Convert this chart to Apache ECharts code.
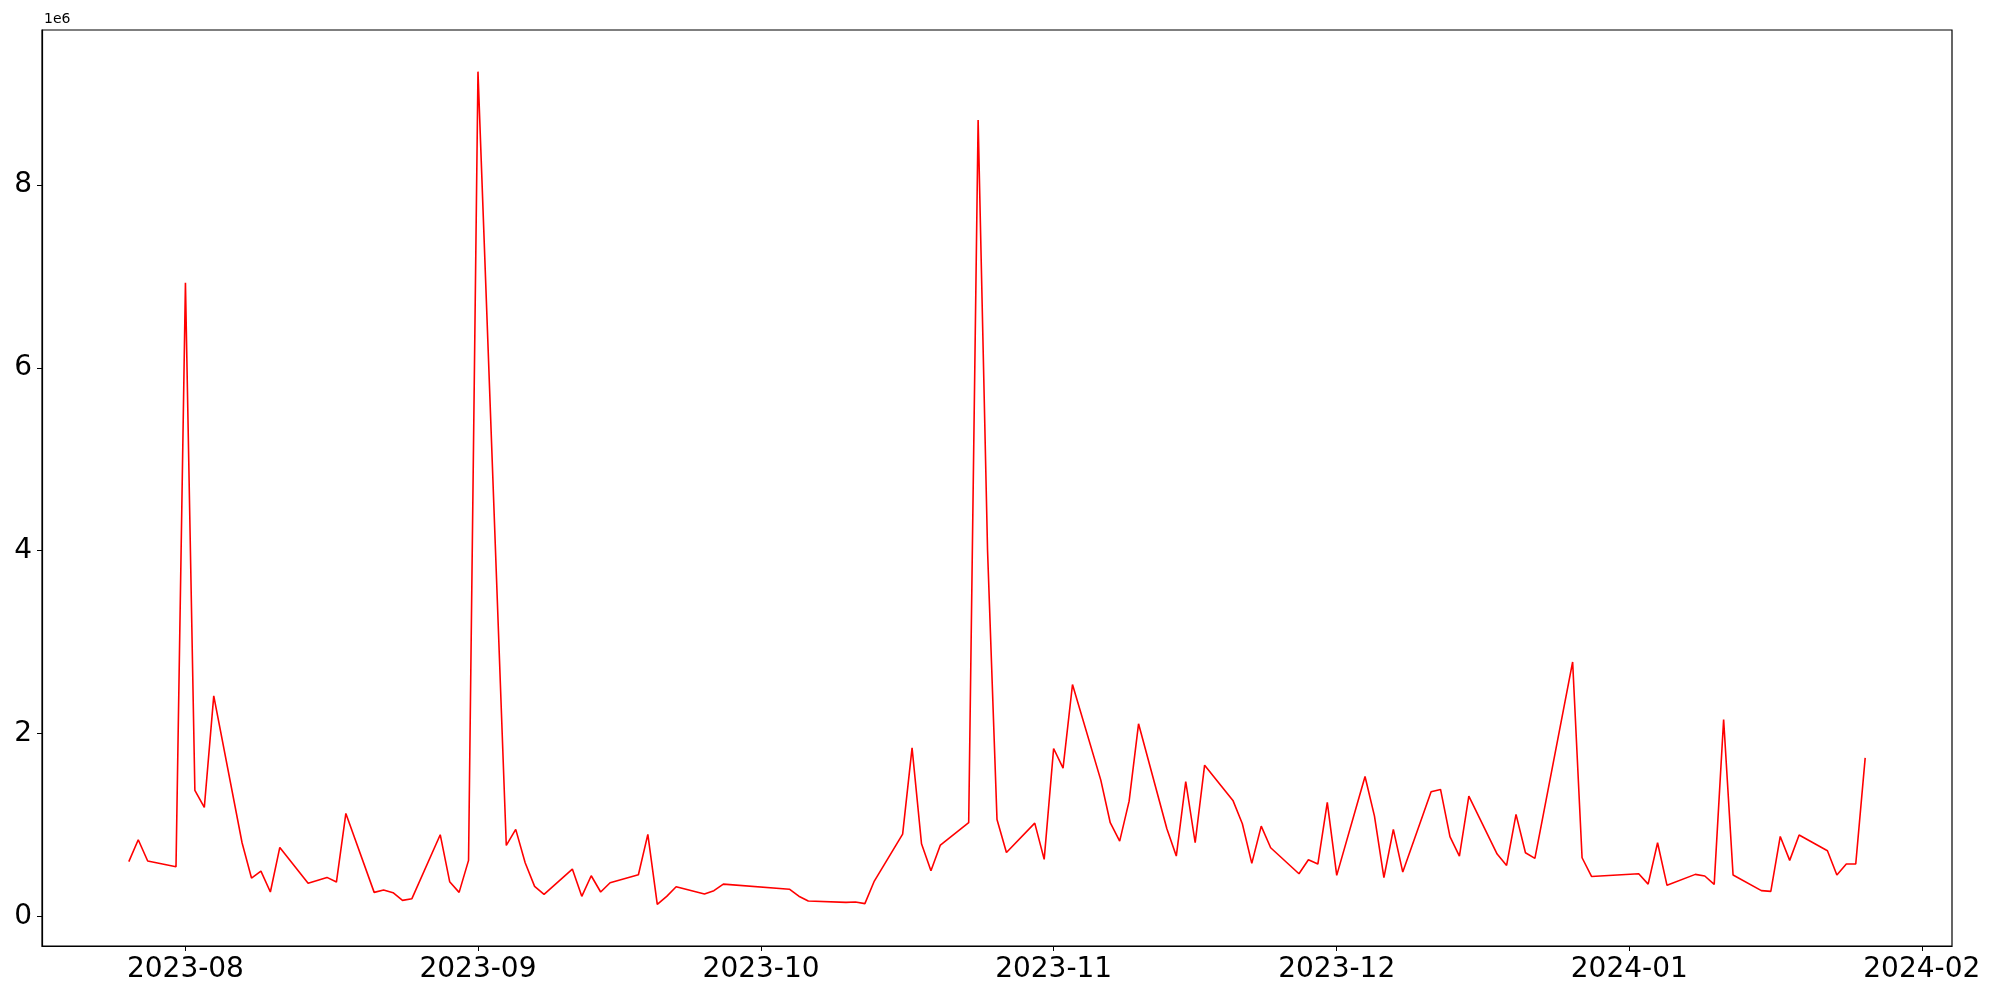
<!DOCTYPE html>
<html>
<head>
<meta charset="utf-8">
<script src="https://cdn.jsdelivr.net/npm/echarts@6/dist/echarts.min.js"></script>
<style>
html,body{margin:0;padding:0;background:#fff;}
#chart{width:2000px;height:1000px;}
</style>
</head>
<body>
<div id="chart"></div>
<script>
// Dates of observations
const dates = [
'2023-07-26','2023-07-27','2023-07-28','2023-07-31',
'2023-08-01','2023-08-02','2023-08-03','2023-08-04',
'2023-08-07','2023-08-08','2023-08-09','2023-08-10','2023-08-11',
'2023-08-14','2023-08-16','2023-08-17','2023-08-18',
'2023-08-21','2023-08-22','2023-08-23','2023-08-24','2023-08-25',
'2023-08-28','2023-08-29','2023-08-30','2023-08-31','2023-09-01',
'2023-09-04','2023-09-05','2023-09-06','2023-09-07','2023-09-08',
'2023-09-11','2023-09-12','2023-09-13','2023-09-14','2023-09-15',
'2023-09-18','2023-09-19','2023-09-20','2023-09-21','2023-09-22',
'2023-09-25','2023-09-26','2023-09-27',
'2023-10-04','2023-10-05','2023-10-06',
'2023-10-10','2023-10-11','2023-10-12','2023-10-13',
'2023-10-16','2023-10-17','2023-10-18','2023-10-19','2023-10-20',
'2023-10-23','2023-10-24','2023-10-25','2023-10-26','2023-10-27',
'2023-10-30','2023-10-31','2023-11-01','2023-11-02','2023-11-03',
'2023-11-06','2023-11-07','2023-11-08','2023-11-09','2023-11-10',
'2023-11-13','2023-11-14','2023-11-15','2023-11-16','2023-11-17',
'2023-11-20','2023-11-21','2023-11-22','2023-11-23','2023-11-24',
'2023-11-27','2023-11-28','2023-11-29','2023-11-30','2023-12-01',
'2023-12-04','2023-12-05','2023-12-06','2023-12-07','2023-12-08',
'2023-12-11','2023-12-12','2023-12-13','2023-12-14','2023-12-15',
'2023-12-18','2023-12-19','2023-12-20','2023-12-21','2023-12-22',
'2023-12-26','2023-12-27','2023-12-28',
'2024-01-02','2024-01-03','2024-01-04','2024-01-05',
'2024-01-08','2024-01-09','2024-01-10','2024-01-11','2024-01-12',
'2024-01-15','2024-01-16','2024-01-17','2024-01-18','2024-01-19',
'2024-01-22','2024-01-23','2024-01-24','2024-01-25','2024-01-26'
];
// Values, in units of 1e6
const values = [
0.598,0.838,0.605,0.543,
6.93,1.377,1.191,2.412,
0.805,0.419,0.495,0.266,0.754,
0.363,0.426,0.375,1.126,
0.262,0.288,0.259,0.175,0.193,
0.893,0.379,0.262,0.612,9.24,
0.776,0.951,0.587,0.328,0.240,
0.517,0.219,0.444,0.266,0.368,
0.455,0.896,0.131,0.219,0.324,
0.244,0.281,0.352,
0.297,0.220,0.168,
0.153,0.157,0.139,0.386,
0.900,1.843,0.794,0.499,0.780,
1.024,8.71,4.0,1.060,0.699,
1.020,0.623,1.836,1.621,2.536,
1.490,1.024,0.823,1.260,2.106,
0.958,0.659,1.475,0.805,1.654,
1.268,1.013,0.579,0.987,0.750,
0.466,0.619,0.572,1.246,0.448,
1.530,1.096,0.423,0.951,0.484,
1.362,1.388,0.871,0.659,1.315,
0.681,0.557,1.115,0.696,0.634,
2.783,0.641,0.436,
0.466,0.352,0.805,0.339,
0.459,0.441,0.350,2.153,0.452,
0.281,0.273,0.874,0.612,0.889,
0.718,0.452,0.572,0.572,1.734
];
const xTickLabels = ['2023-08','2023-09','2023-10','2023-11','2023-12','2024-01','2024-02'];
const yTickValues = [0, 2, 4, 6, 8];
const offsetLabel = '1e6';

function toMs(s){ const p = s.split('-').map(Number); return Date.UTC(p[0], p[1]-1, p[2] || 1); }
const xs = dates.map(toMs);
const seriesData = xs.map((x, i) => [x, values[i]]);
const xTicks = xTickLabels.map(toMs);

const xMinD = Math.min(...xs), xMaxD = Math.max(...xs);
const xPad = (xMaxD - xMinD) * 0.05;
const yMinD = Math.min(...values), yMaxD = Math.max(...values);
const yPad = (yMaxD - yMinD) * 0.05;

function fmtMonth(v){
  const d = new Date(v);
  const m = d.getUTCMonth() + 1;
  return d.getUTCFullYear() + '-' + (m < 10 ? '0' + m : m);
}

const chart = echarts.init(document.getElementById('chart'), null, {renderer: 'canvas'});
chart.setOption({
  animation: false,
  backgroundColor: '#ffffff',
  grid: {left: 42, right: 48, top: 30, bottom: 54, show: true, borderColor: '#000', borderWidth: 1.2, backgroundColor: 'transparent'},
  xAxis: {
    type: 'value',
    min: xMinD - xPad,
    max: xMaxD + xPad,
    axisLine: {show: true, onZero: false, lineStyle: {color: '#000', width: 1.2}},
    splitLine: {show: false},
    axisTick: {show: true, length: 5, lineStyle: {color: '#000', width: 1}, customValues: xTicks},
    axisLabel: {
      customValues: xTicks,
      formatter: fmtMonth,
      fontFamily: 'DejaVu Sans',
      fontSize: 28,
      color: '#000',
      margin: 10
    }
  },
  yAxis: {
    type: 'value',
    min: yMinD - yPad,
    max: yMaxD + yPad,
    axisLine: {show: true, onZero: false, lineStyle: {color: '#000', width: 1.2}},
    splitLine: {show: false},
    axisTick: {show: true, length: 5, lineStyle: {color: '#000', width: 1}, customValues: yTickValues},
    axisLabel: {
      customValues: yTickValues,
      formatter: v => String(Math.round(v)),
      fontFamily: 'DejaVu Sans',
      fontSize: 28,
      color: '#000',
      margin: 10
    }
  },
  graphic: [{
    type: 'text', left: 44, top: 12,
    style: {text: offsetLabel, font: '14px "DejaVu Sans"', fill: '#000'}
  }],
  series: [{
    type: 'line',
    data: seriesData,
    showSymbol: false,
    symbol: 'none',
    lineStyle: {color: '#ff0000', width: 1.6},
    itemStyle: {color: '#ff0000'}
  }]
});
</script>
</body>
</html>
